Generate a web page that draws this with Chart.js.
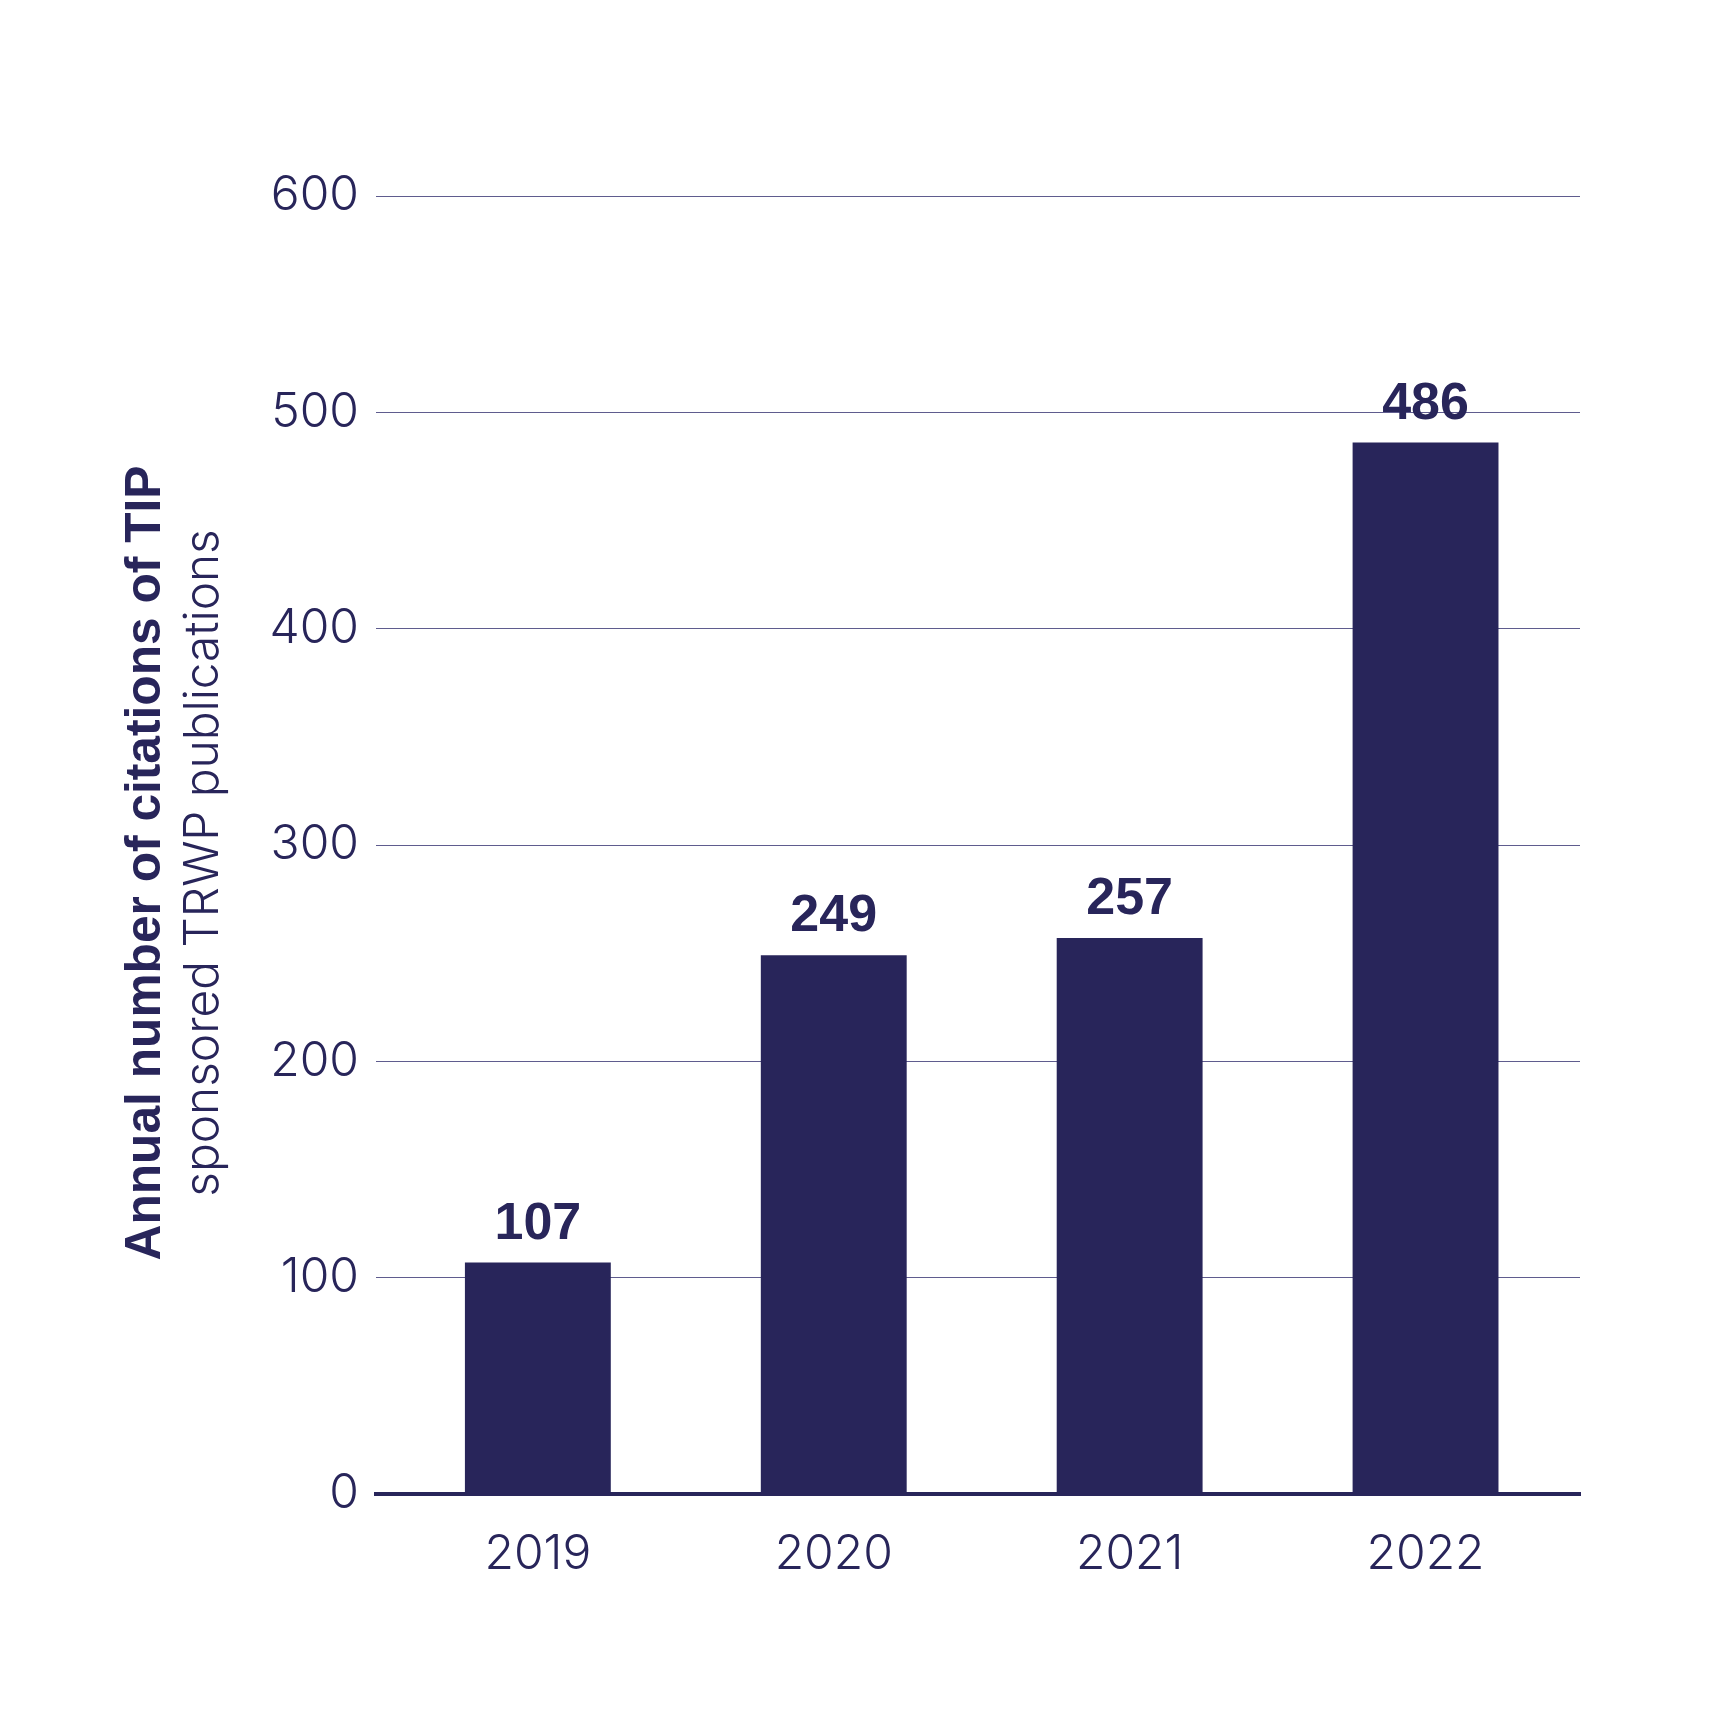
<!DOCTYPE html>
<html><head><meta charset="utf-8">
<script src="https://cdn.jsdelivr.net/npm/chart.js@4/dist/chart.umd.min.js"></script>
<style>html,body{margin:0;padding:0;background:#fff}#wrap{width:1709px;height:1709px}</style>
</head><body><div id="wrap"><canvas id="c" width="1709" height="1709"></canvas></div>
<script>
const years = ['2019', '2020', '2021', '2022'];
const citations = [107, 249, 257, 486];
const yMin = 0, yMax = 600, yStep = 100;
const titleBold = 'Annual number of citations of TIP';
const titleLight = 'sponsored TRWP publications';

const NAVY = '#28255A';
const GRID = '#5f5c8e';

const valueLabels = {
  id: 'valueLabels',
  afterDatasetsDraw(chart) {
    const ctx = chart.ctx;
    const meta = chart.getDatasetMeta(0);
    ctx.save();
    ctx.fillStyle = NAVY;
    ctx.font = 'bold 52px "Liberation Sans", Arial, sans-serif';
    ctx.textAlign = 'center';
    ctx.textBaseline = 'alphabetic';
    meta.data.forEach((bar, i) => {
      ctx.fillText(String(citations[i]), bar.x, bar.y - 24);
    });
    ctx.restore();
  }
};

const yTitle = {
  id: 'yTitle',
  afterDraw(chart) {
    const ctx = chart.ctx;
    const cy = 863;
    ctx.save();
    ctx.fillStyle = NAVY;
    ctx.textAlign = 'center';
    ctx.textBaseline = 'alphabetic';
    ctx.translate(160, cy);
    ctx.rotate(-Math.PI / 2);
    ctx.font = 'bold 49.7px "Liberation Sans", Arial, sans-serif';
    ctx.fillText(titleBold, 0, 0);
    ctx.restore();
    ctx.save();
    ctx.fillStyle = NAVY;
    ctx.textAlign = 'center';
    ctx.textBaseline = 'alphabetic';
    ctx.translate(218, cy);
    ctx.rotate(-Math.PI / 2);
    ctx.font = '300 47.8px Inter, sans-serif';
    ctx.fillText(titleLight, 0, 0);
    ctx.restore();
  }
};

new Chart(document.getElementById('c'), {
  type: 'bar',
  data: {
    datasets: [{
      data: citations.map((v, i) => ({ x: i, y: v })),
      backgroundColor: NAVY,
      borderWidth: 0,
      categoryPercentage: 1,
      barPercentage: 0.493
    }]
  },
  options: {
    responsive: false,
    animation: false,
    layout: { padding: { left: 0, top: 196, right: 129, bottom: 0 } },
    plugins: { legend: { display: false }, tooltip: { enabled: false } },
    scales: {
      x: {
        type: 'linear',
        min: -0.547,
        max: 3.522,
        offset: false,
        afterFit(s) { s.height = 215; },
        afterBuildTicks(s) { s.ticks = years.map((_, i) => ({ value: i })); },
        grid: { display: false, drawTicks: false },
        border: { display: true, color: NAVY, width: 4 },
        ticks: {
          color: NAVY, padding: 32, autoSkip: false, maxRotation: 0,
          font: { family: 'Inter', weight: 300, size: 48 },
          callback: (v) => years[v] ?? ''
        }
      },
      y: {
        min: yMin, max: yMax,
        afterFit(s) { s.width = 376; },
        grid: { color: GRID, lineWidth: 1, drawTicks: false },
        border: { display: false },
        ticks: { stepSize: yStep, color: NAVY, padding: 17, font: { family: 'Inter', weight: 300, size: 48 } }
      }
    }
  },
  plugins: [valueLabels, yTitle]
});
</script>
</body></html>
